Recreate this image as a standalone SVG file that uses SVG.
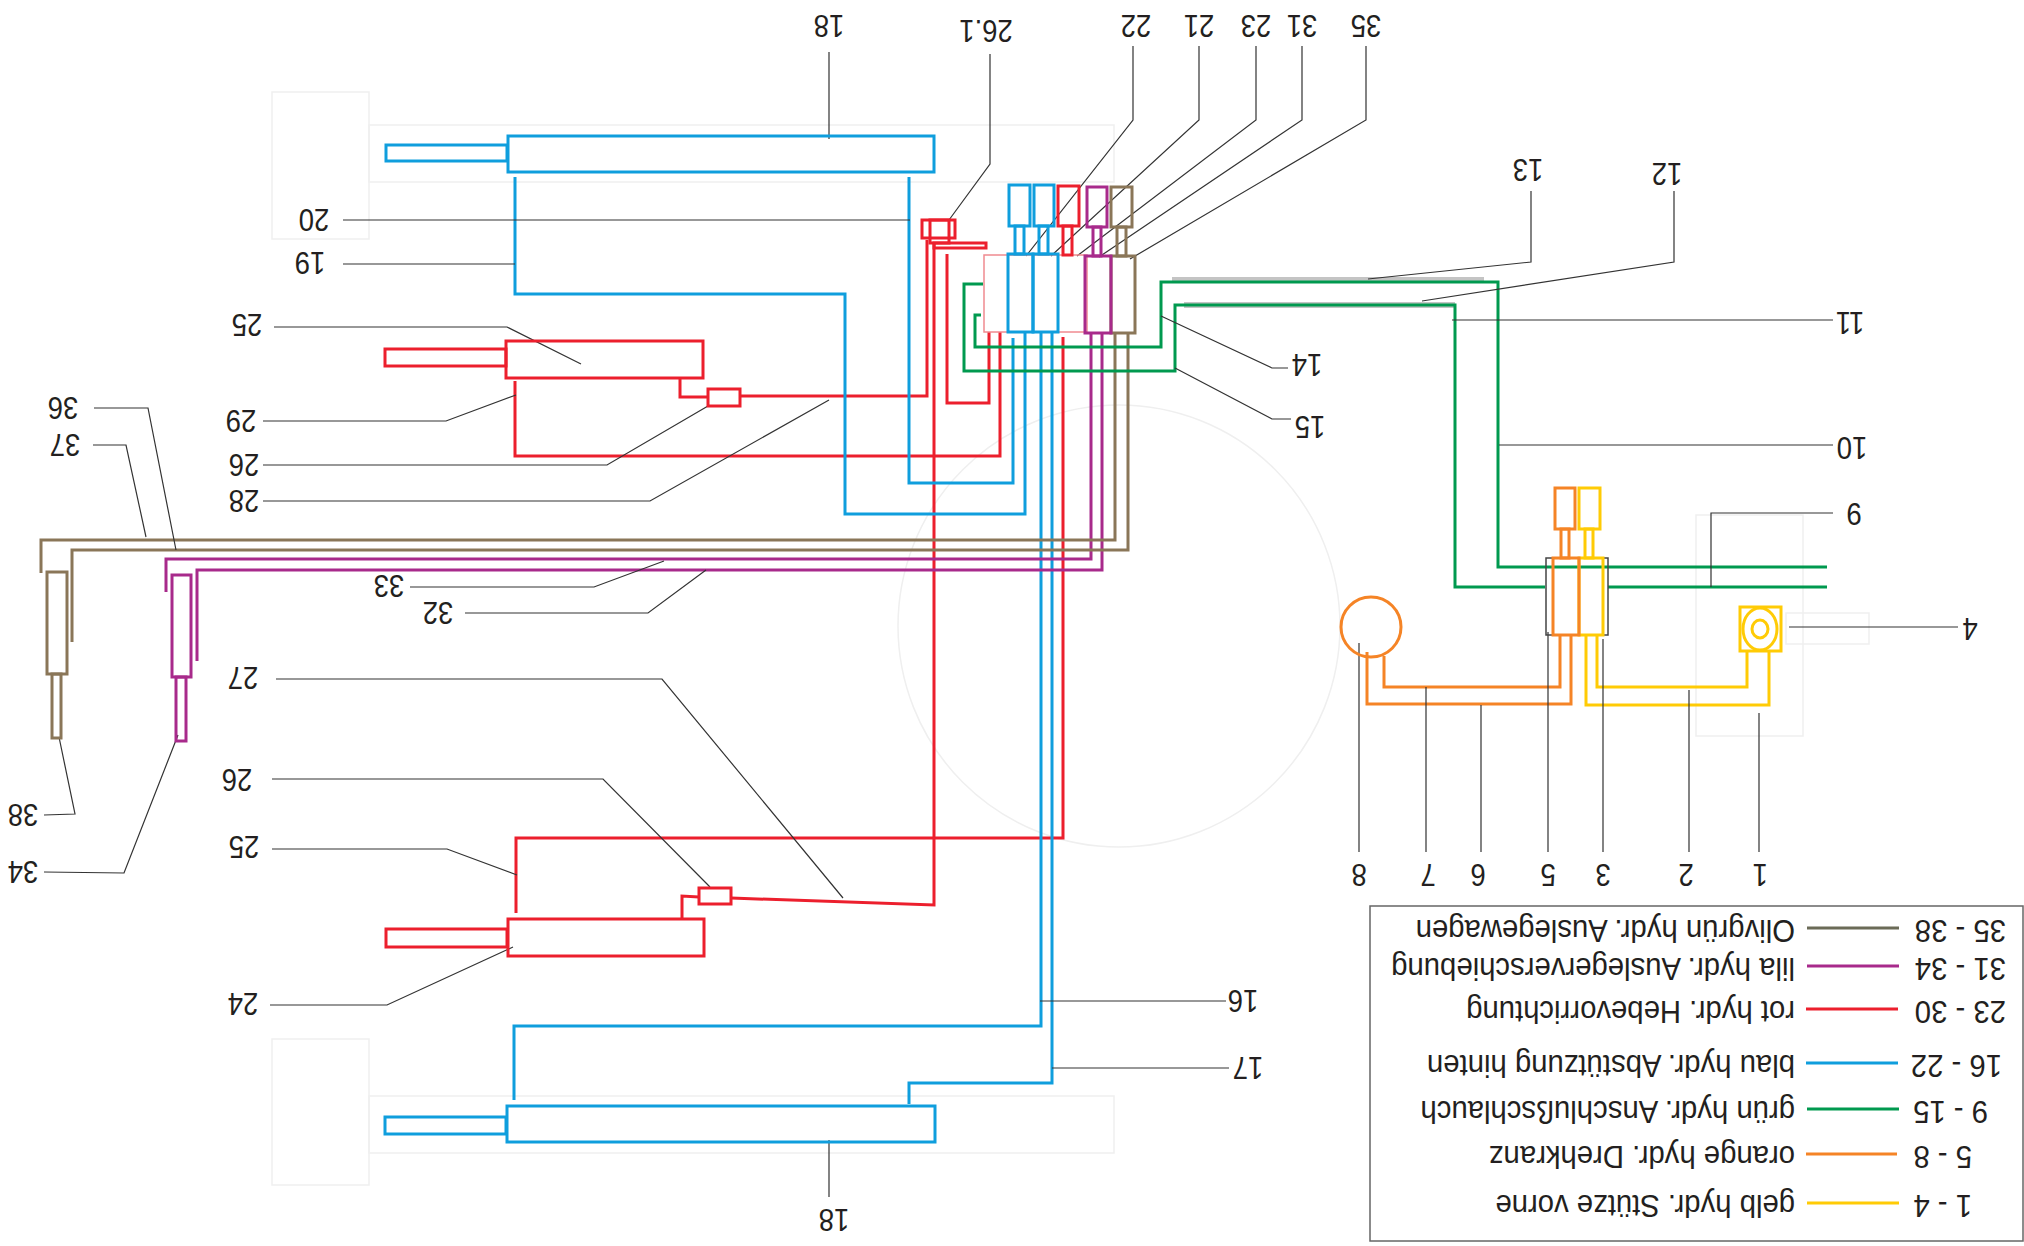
<svg xmlns="http://www.w3.org/2000/svg" width="2024" height="1246" viewBox="0 0 2024 1246">
<style>
text{font-family:"Liberation Sans",Arial,sans-serif;fill:#231f20}
.n{font-size:27.5px;text-anchor:middle}
.t{font-size:29.3px}
.f{fill:none;stroke:#efefef;stroke-width:1.5}
path,rect,circle,ellipse,line{fill:none}
.s{fill:none;stroke-width:3}
.y{stroke:#ffcb05}.o{stroke:#f58426}.g{stroke:#00994f}.b{stroke:#0f9edd}.r{stroke:#ec1f2d}.p{stroke:#a82a8b}.v{stroke:#8a7658}
.l{fill:none;stroke:#333;stroke-width:1.2}
</style>
<rect width="2024" height="1246" style="fill:#fff"/>
<g id="background">
<rect class="f" x="272" y="92" width="97" height="147"/>
<rect class="f" x="369" y="125" width="745" height="57"/>
<rect class="f" x="272" y="1039" width="97" height="146"/>
<rect class="f" x="369" y="1096" width="745" height="57"/>
<circle class="f" cx="1119" cy="626" r="221"/>
<rect class="f" x="1696" y="515" width="107" height="221"/>
<rect class="f" x="1786" y="613" width="83" height="31"/>
<path d="M1172 280H1484M1184 305H1455" style="stroke:#c4c4c4;stroke-width:6"/>
</g>
<g id="connectors">
<path class="s r" d="M927 240V396H740M708 397H680V378"/>
<path class="s r" d="M515 381V456H1000V332"/>
<path class="s r" d="M989 332V403H947V254"/>
<path class="s r" d="M1063 337V838H516V913"/>
<path class="s r" d="M934 243V905L731 898M699 897L682 896V919"/>
<path class="s b" d="M1013 338V483H909V177"/>
<path class="s b" d="M1025 332V514H845V294H515V177"/>
<path class="s b" d="M1041 332V1026H514V1100"/>
<path class="s b" d="M1052 332V1083H909V1104"/>
<path class="s p" d="M166 592V559H1091V333"/>
<path class="s p" d="M197 661V570H1102V333"/>
<path class="s v" d="M41 573V540H1115V332"/>
<path class="s v" d="M72 642V550H1128V332"/>
<path class="s g" d="M983 284H964V371H1175V305H1455V587H1545"/>
<path class="s g" d="M981 315H975V347H1161V282H1498V567H1827"/>
<path class="s g" d="M1608 587H1827"/>
<path class="s o" d="M1560 635V687H1384V656"/>
<path class="s o" d="M1571 635V704H1367V652"/>
<path class="s y" d="M1597 635V687H1747V651"/>
<path class="s y" d="M1586 635V705H1769V651"/>
</g>
<g id="leaders">
<path class="l" d="M829 52V139M829 1140V1197"/>
<path class="l" d="M990 54V164L949 220"/>
<path class="l" d="M1133 46V120L1026 256"/>
<path class="l" d="M1199 46V120L1051 256"/>
<path class="l" d="M1256 46V120L1077 256"/>
<path class="l" d="M1302 46V120L1099 257"/>
<path class="l" d="M1366 46V120L1130 259"/>
<path class="l" d="M343 220H910"/>
<path class="l" d="M343 264H515"/>
<path class="l" d="M274 327H507L581 364"/>
<path class="l" d="M263 421H446L516 395"/>
<path class="l" d="M263 465H607L708 406"/>
<path class="l" d="M263 501H650L829 400"/>
<path class="l" d="M94 408H148L176 550"/>
<path class="l" d="M93 445H126L146 537"/>
<path class="l" d="M410 587H594L664 561"/>
<path class="l" d="M465 613H648L706 570"/>
<path class="l" d="M276 679H662L843 898"/>
<path class="l" d="M272 779H603L710 887"/>
<path class="l" d="M272 849H447L517 875"/>
<path class="l" d="M270 1005H387L513 947"/>
<path class="l" d="M1226 1001H1040"/>
<path class="l" d="M1229 1068H1052"/>
<path class="l" d="M59 737L75 814L44 815"/>
<path class="l" d="M178 735L124 873L44 872"/>
<path class="l" d="M1359 643V852M1426 687V852M1481 705V852M1548 632V852M1603 639V852M1689 690V852M1759 713V852"/>
<path class="l" d="M1789 627H1958"/>
<path class="l" d="M1711 587V513H1833"/>
<path class="l" d="M1499 445H1833"/>
<path class="l" d="M1452 320H1833"/>
<path class="l" d="M1422 301L1674 262V191"/>
<path class="l" d="M1368 279L1531 262V191"/>
<path class="l" d="M1161 316L1272 368H1288"/>
<path class="l" d="M1175 368L1272 419H1291"/>
</g>
<g id="cyl-blue-top"><rect class="s b" x="386" y="145" width="121" height="16"/><rect class="s b" x="508" y="136" width="426" height="36"/></g>
<g id="cyl-blue-bottom"><rect class="s b" x="385" y="1117" width="121" height="17"/><rect class="s b" x="507" y="1106" width="428" height="36"/></g>
<g id="cyl-red-top"><rect class="s r" x="385" y="349" width="121" height="17"/><rect class="s r" x="506" y="341" width="197" height="37"/><rect class="s r" x="708" y="389" width="32" height="17"/></g>
<g id="cyl-red-bottom"><rect class="s r" x="386" y="929" width="121" height="18"/><rect class="s r" x="508" y="919" width="196" height="37"/><rect class="s r" x="699" y="888" width="32" height="16"/></g>
<g id="valve-26-1"><rect class="s r" x="922" y="220" width="33" height="18"/><rect class="s r" x="930" y="220" width="19" height="23"/><rect class="s r" x="934" y="243" width="52" height="5"/></g>
<g id="valve-block">
<rect x="984" y="255" width="103" height="77" style="stroke:#f08a90;stroke-width:1.5"/>
<rect class="s b" x="1009" y="185" width="21" height="41"/><rect class="s b" x="1034" y="185" width="20" height="41"/><rect class="s r" x="1058" y="186" width="21" height="40"/><rect class="s p" x="1087" y="187" width="20" height="40"/><rect class="s v" x="1111" y="187" width="21" height="40"/>
<rect class="s b" x="1015" y="226" width="9" height="28"/><rect class="s b" x="1039" y="226" width="9" height="28"/><rect class="s r" x="1063" y="226" width="9" height="29"/><rect class="s p" x="1093" y="227" width="8" height="29"/><rect class="s v" x="1117" y="227" width="9" height="29"/>
<rect class="s b" x="1008" y="254" width="25" height="78"/><rect class="s b" x="1033" y="254" width="25" height="78"/>
<rect class="s v" x="1111" y="256" width="24" height="77"/><rect class="s p" x="1085" y="256" width="26" height="77"/>
</g>
<g id="cyl-olive"><rect class="s v" x="47" y="572" width="20" height="102"/><rect class="s v" x="52" y="674" width="9" height="64"/></g>
<g id="cyl-purple"><rect class="s p" x="172" y="575" width="19" height="102"/><rect class="s p" x="176" y="677" width="10" height="64"/></g>
<g id="valve-front">
<rect x="1546" y="558" width="62" height="77" style="stroke:#444;stroke-width:1.5"/>
<rect class="s y" x="1579" y="488" width="21" height="41"/><rect class="s o" x="1555" y="488" width="20" height="41"/>
<rect class="s y" x="1585" y="529" width="8" height="29"/><rect class="s o" x="1561" y="529" width="8" height="29"/>
<rect class="s y" x="1579" y="558" width="24" height="77"/><rect class="s o" x="1553" y="558" width="26" height="77"/>
</g>
<g id="swivel"><circle class="s o" cx="1371" cy="627" r="30"/></g>
<g id="foot"><rect class="s y" x="1740" y="607" width="41" height="44"/><ellipse class="s y" cx="1760" cy="629" rx="17" ry="21"/><ellipse class="s y" cx="1760" cy="629" rx="8" ry="9"/></g>
<g id="labels">
<text class="n" transform="translate(829,14.5) rotate(180) scale(1,1.12)">18</text>
<text class="n" transform="translate(986,20) rotate(180) scale(1,1.12)">26.1</text>
<text class="n" transform="translate(1136,14.5) rotate(180) scale(1,1.12)">22</text>
<text class="n" transform="translate(1199,14.5) rotate(180) scale(1,1.12)">21</text>
<text class="n" transform="translate(1256,14.5) rotate(180) scale(1,1.12)">23</text>
<text class="n" transform="translate(1302,14.5) rotate(180) scale(1,1.12)">31</text>
<text class="n" transform="translate(1366,14.5) rotate(180) scale(1,1.12)">35</text>
<text class="n" transform="translate(314,208.5) rotate(180) scale(1,1.12)">20</text>
<text class="n" transform="translate(310,251.5) rotate(180) scale(1,1.12)">19</text>
<text class="n" transform="translate(247,313.5) rotate(180) scale(1,1.12)">25</text>
<text class="n" transform="translate(241,409.5) rotate(180) scale(1,1.12)">29</text>
<text class="n" transform="translate(244,453.5) rotate(180) scale(1,1.12)">26</text>
<text class="n" transform="translate(244,489.5) rotate(180) scale(1,1.12)">28</text>
<text class="n" transform="translate(63,396.5) rotate(180) scale(1,1.12)">36</text>
<text class="n" transform="translate(65,433.5) rotate(180) scale(1,1.12)">37</text>
<text class="n" transform="translate(389,574.5) rotate(180) scale(1,1.12)">33</text>
<text class="n" transform="translate(438,601.5) rotate(180) scale(1,1.12)">32</text>
<text class="n" transform="translate(243,666.5) rotate(180) scale(1,1.12)">27</text>
<text class="n" transform="translate(237,768.5) rotate(180) scale(1,1.12)">26</text>
<text class="n" transform="translate(244,835.5) rotate(180) scale(1,1.12)">25</text>
<text class="n" transform="translate(243,992.5) rotate(180) scale(1,1.12)">24</text>
<text class="n" transform="translate(1243,989.5) rotate(180) scale(1,1.12)">16</text>
<text class="n" transform="translate(1248,1056.5) rotate(180) scale(1,1.12)">17</text>
<text class="n" transform="translate(834,1208.5) rotate(180) scale(1,1.12)">18</text>
<text class="n" transform="translate(23,803.5) rotate(180) scale(1,1.12)">38</text>
<text class="n" transform="translate(23,860.5) rotate(180) scale(1,1.12)">34</text>
<text class="n" transform="translate(1359,863.5) rotate(180) scale(1,1.12)">8</text>
<text class="n" transform="translate(1428,863.5) rotate(180) scale(1,1.12)">7</text>
<text class="n" transform="translate(1478,863.5) rotate(180) scale(1,1.12)">6</text>
<text class="n" transform="translate(1548,863.5) rotate(180) scale(1,1.12)">5</text>
<text class="n" transform="translate(1603,863.5) rotate(180) scale(1,1.12)">3</text>
<text class="n" transform="translate(1686,863.5) rotate(180) scale(1,1.12)">2</text>
<text class="n" transform="translate(1760,863.5) rotate(180) scale(1,1.12)">1</text>
<text class="n" transform="translate(1970,617.5) rotate(180) scale(1,1.12)">4</text>
<text class="n" transform="translate(1854,502.5) rotate(180) scale(1,1.12)">9</text>
<text class="n" transform="translate(1852,436.5) rotate(180) scale(1,1.12)">10</text>
<text class="n" transform="translate(1850,311.5) rotate(180) scale(1,1.12)">11</text>
<text class="n" transform="translate(1667,162.5) rotate(180) scale(1,1.12)">12</text>
<text class="n" transform="translate(1528,158.5) rotate(180) scale(1,1.12)">13</text>
<text class="n" transform="translate(1307,353.5) rotate(180) scale(1,1.12)">14</text>
<text class="n" transform="translate(1310,415.5) rotate(180) scale(1,1.12)">15</text>
</g>
<g id="legend">
<rect x="1370" y="906" width="653" height="335" style="stroke:#666;stroke-width:1.5"/>
<path d="M1807 928H1899" style="stroke:#6b6b57;stroke-width:3"/>
<path d="M1807 966H1899" style="stroke:#a82a8b;stroke-width:3"/>
<path d="M1806 1009H1898" style="stroke:#ec1f2d;stroke-width:3"/>
<path d="M1806 1063H1898" style="stroke:#0f9edd;stroke-width:3"/>
<path d="M1807 1109H1899" style="stroke:#00994f;stroke-width:3"/>
<path d="M1806 1154H1897" style="stroke:#f58426;stroke-width:3"/>
<path d="M1807 1203H1899" style="stroke:#ffcb05;stroke-width:3"/>
<text class="t" transform="translate(1795,920) rotate(180) scale(1,1.08)">Olivgrün hydr. Auslegewagen</text>
<text class="t" transform="translate(1795,958) rotate(180) scale(1,1.08)">lila hydr. Auslegerverschiebung</text>
<text class="t" transform="translate(1795,1001) rotate(180) scale(1,1.08)">rot hydr. Hebevorrichtung</text>
<text class="t" transform="translate(1795,1055) rotate(180) scale(1,1.08)">blau hydr. Abstützung hinten</text>
<text class="t" transform="translate(1795,1101) rotate(180) scale(1,1.08)">grün hydr. Anschlußschlauch</text>
<text class="t" transform="translate(1795,1146) rotate(180) scale(1,1.08)">orange hydr. Drehkranz</text>
<text class="t" transform="translate(1795,1195) rotate(180) scale(1,1.08)">gelb hydr. Stütze vorne</text>
<text class="t" transform="translate(2006,920) rotate(180) scale(1,1.08)">35 - 38</text>
<text class="t" transform="translate(2006,958) rotate(180) scale(1,1.08)">31 - 34</text>
<text class="t" transform="translate(2006,1001) rotate(180) scale(1,1.08)">23 - 30</text>
<text class="t" transform="translate(2002,1055) rotate(180) scale(1,1.08)">16 - 22</text>
<text class="t" transform="translate(1988,1101) rotate(180) scale(1,1.08)">9 - 15</text>
<text class="t" transform="translate(1972,1146) rotate(180) scale(1,1.08)">5 - 8</text>
<text class="t" transform="translate(1972,1195) rotate(180) scale(1,1.08)">1 - 4</text>
</g>
</svg>
